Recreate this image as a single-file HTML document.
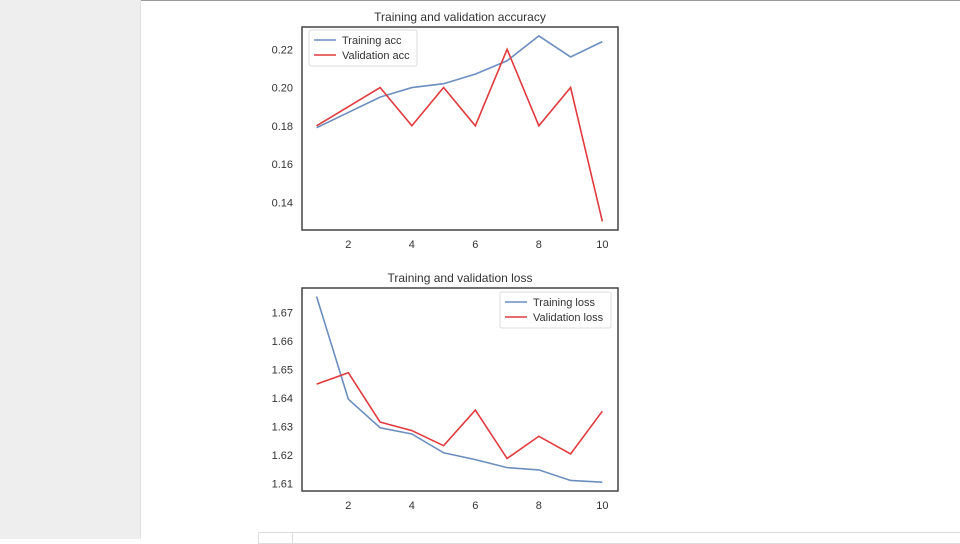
<!DOCTYPE html>
<html><head><meta charset="utf-8"><style>
html,body{margin:0;padding:0;width:960px;height:539px;overflow:hidden;background:#fff;font-family:"Liberation Sans",sans-serif}
#side{position:absolute;left:0;top:0;width:140px;height:539px;background:#eeeeee;border-right:1px solid #e0e0e0}
#topline{position:absolute;left:141px;top:0;width:819px;height:1px;background:#999}
#cell{position:absolute;left:258px;top:532px;width:702px;height:10px;border:1px solid #ddd;background:#fff}
#cell div{position:absolute;left:33px;top:0;width:1px;height:10px;background:#ddd}
svg{position:absolute;left:0;top:0}
text{font-family:"Liberation Sans",sans-serif;fill:#333}
</style></head><body>
<div id="side"></div>
<div id="topline"></div>
<div id="cell"><div></div></div>
<svg id="chart" width="960" height="539"></svg>
<script>
const epochs=[1,2,3,4,5,6,7,8,9,10];
const xTicks=[2,4,6,8,10];
const trainAcc=[0.179,0.187,0.195,0.200,0.202,0.207,0.214,0.227,0.216,0.224];
const valAcc=[0.180,0.190,0.200,0.180,0.200,0.180,0.220,0.180,0.200,0.130];
const accTicks=[0.14,0.16,0.18,0.20,0.22];
const trainLoss=[1.6755,1.6395,1.6295,1.6273,1.6207,1.6183,1.6155,1.6147,1.6110,1.6104];
const valLoss=[1.6448,1.6488,1.6315,1.6285,1.6232,1.6357,1.6187,1.6265,1.6203,1.6353];
const lossTicks=[1.61,1.62,1.63,1.64,1.65,1.66,1.67];
const NS='http://www.w3.org/2000/svg';
const svg=document.getElementById('chart');
function mk(t,a,name,p){const e=document.createElementNS(NS,t);for(const k in a)e.setAttribute(k,a[k]);


(p||svg).appendChild(e);return e;}
const xs=v=>316.6+(v-1)*31.75;
function panel(o){
 const g=mk('g',{},o.name);
 const ys=v=>o.y0+(v-o.v0)*o.k;
 mk('rect',{x:302,y:o.top,width:316,height:o.bot-o.top,fill:'#fff',stroke:'#444','stroke-width':1.5},'plot-frame',g);
 const tt=mk('text',{x:460,y:o.top-6,'text-anchor':'middle','font-size':12},'chart-title',g);tt.textContent=o.title;
 xTicks.forEach(t=>{const e=mk('text',{x:xs(t),y:o.bot+18,'text-anchor':'middle','font-size':11},'x-tick-label',g);e.textContent=t;});
 o.yt.forEach(t=>{const e=mk('text',{x:293,y:ys(t)+4,'text-anchor':'end','font-size':11},'y-tick-label',g);e.textContent=t.toFixed(o.dec);});
 [[o.a,'#6c8ebf','train-line'],[o.b,'#e03a3e','val-line']].forEach(([d,c,n])=>{
  mk('polyline',{points:d.map((v,i)=>xs(epochs[i])+','+ys(v)).join(' '),fill:'none',stroke:c,'stroke-width':1.6},n,g);});
 const lg=mk('g',{},'legend',g);
 mk('rect',{x:o.lx,y:o.ly,width:o.lw,height:36,rx:2,fill:'#fff',stroke:'#ddd'},'legend-box',lg);
 [[o.la,'#6c8ebf'],[o.lb,'#e03a3e']].forEach(([s,c],i)=>{
  const yy=o.ly+10+i*15;
  mk('line',{x1:o.lx+5,x2:o.lx+27,y1:yy,y2:yy,stroke:c,'stroke-width':1.6},'legend-swatch',lg);
  const e=mk('text',{x:o.lx+33,y:yy+4,'font-size':11},'legend-label',lg);e.textContent=s;});
}
panel({name:'accuracy-chart',title:'Training and validation accuracy',top:27,bot:230,y0:49.3,v0:0.22,k:-38.25/0.02,yt:accTicks,dec:2,a:trainAcc,b:valAcc,la:'Training acc',lb:'Validation acc',lx:309,ly:30,lw:108});
panel({name:'loss-chart',title:'Training and validation loss',top:288,bot:491,y0:312.3,v0:1.67,k:-2850,yt:lossTicks,dec:2,a:trainLoss,b:valLoss,la:'Training loss',lb:'Validation loss',lx:500,ly:292,lw:111});
</script>
</body></html>
